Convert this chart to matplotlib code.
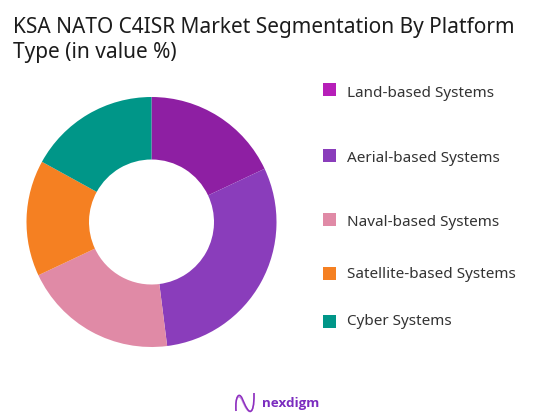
import matplotlib
matplotlib.use("Agg")
import matplotlib.pyplot as plt
from matplotlib.patches import Rectangle, PathPatch
from matplotlib.path import Path

labels = ["Land-based Systems", "Aerial-based Systems", "Naval-based Systems", "Satellite-based Systems", "Cyber Systems"]
values = [18, 30, 20, 15, 17]
colors = ["#8E1FA3", "#8A3DBB", "#E08AA6", "#F58022", "#009688"]
legend_colors = ["#B61FB8", "#8A3DBB", "#E08AA6", "#F58022", "#009688"]
legend_y = [90, 156, 220, 274, 322]
text_y = [93.5, 158.5, 222.5, 275, 321.5]
title = "KSA NATO C4ISR Market Segmentation By Platform\nType (in value %)"
brand = "nexdigm"

W, H = 534, 420
plt.rcParams['font.family'] = ['Noto Sans', 'DejaVu Sans']
fig = plt.figure(figsize=(W/100, H/100), dpi=100)

ax = fig.add_axes([26.5/W, 1-347/H, 250/W, 250/H])
ax.pie(values, colors=colors, startangle=90, counterclock=False, radius=1,
       wedgeprops=dict(width=0.5))
ax.set_xlim(-1, 1); ax.set_ylim(-1, 1)
ax.set_aspect('equal')

ov = fig.add_axes([0, 0, 1, 1]); ov.set_xlim(0, W); ov.set_ylim(H, 0); ov.axis('off')
ov.patch.set_alpha(0)
ov.text(13, 40, title, fontsize=15.0, color="#1c1c1c", va='center', ha='left', linespacing=1.27)
for l, c, y, ty in zip(labels, legend_colors, legend_y, text_y):
    ov.add_patch(Rectangle((323, y-7), 13, 13, color=c, lw=0))
    ov.text(347, ty, l, fontsize=11, color="#333333", va='center', ha='left')
ov.text(262, 403, brand, fontsize=9.6, color="#7B2CBF", va='center', ha='left', weight='bold', family='Open Sans')
codes = [Path.MOVETO] + [Path.CURVE4] * 9
for off, a in [(0, 1.0), (2, 0.5)]:
    verts = [(236, 411), (235, 396), (239, 392+off), (242, 398+off),
             (245, 405+off), (249, 415), (252, 410),
             (254, 406), (254, 400), (254, 393)]
    ov.add_patch(PathPatch(Path(verts, codes), fill=False, edgecolor="#8E2FC0", lw=1.1, alpha=a))
fig.savefig("out.png", dpi=100)
